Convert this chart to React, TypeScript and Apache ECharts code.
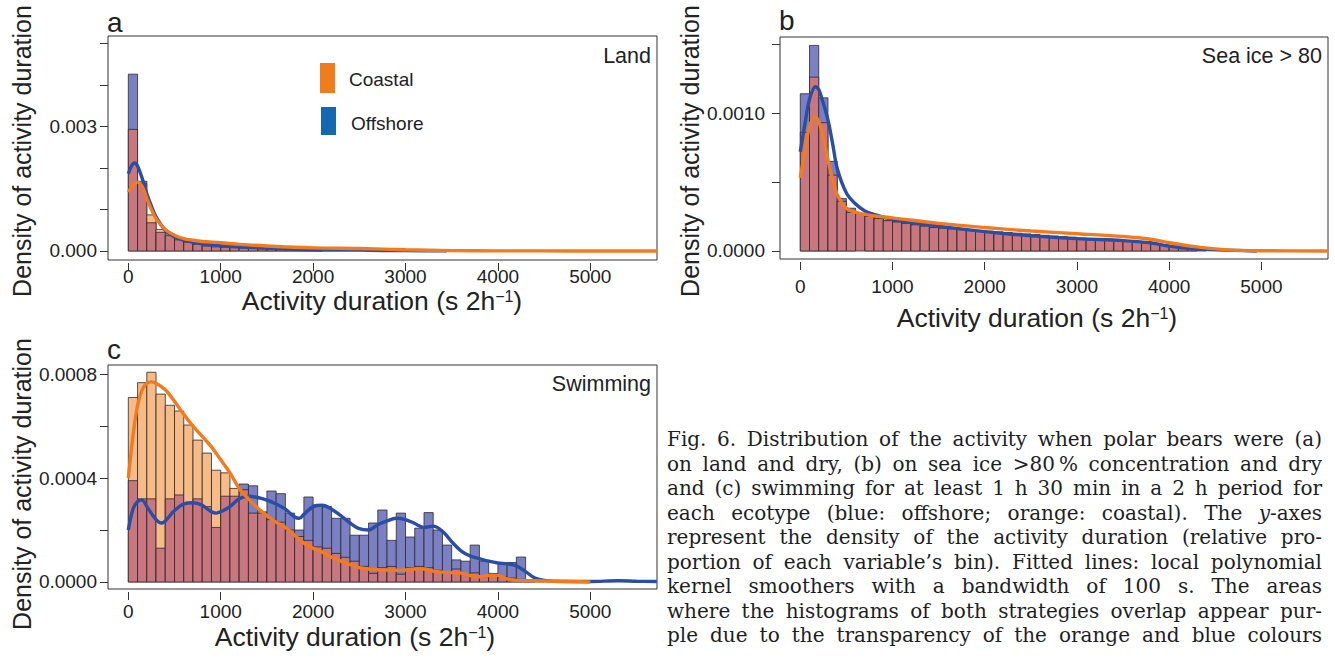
import React, { useEffect, useRef } from "react";
import * as echarts from "echarts";

// ---------------- data ----------------
const BIN_WIDTH = 100;

// Panel a: Land (density per bin, bins of 100 s starting at 0)
const landCoastal = [0.00293, 0.00162, 0.00087, 0.00052, 0.00041, 0.0003, 0.00023, 0.00018, 0.00014, 0.00012, 0.0001, 0.00009, 0.00008, 0.00007, 0.00006, 0.000055, 0.00005, 0.000045, 0.00004, 0.000035, 0.00003];
const landOffshore = [0.00426, 0.00168, 0.00068, 0.00045, 0.00037, 0.00027, 0.00021, 0.00016, 0.00012, 0.0001, 0.00009, 0.00008, 0.00007, 0.00006, 0.00005, 0.000045, 0.00004, 0.000035, 0.00003, 0.000025, 0.00002];
const landCoastalSmoothX = [0, 50, 100, 150, 200, 250, 300, 400, 500, 600, 700, 800, 1000, 1200, 1500, 2000, 2500, 3000, 3500, 4000, 4500, 5000, 5720];
const landCoastalSmoothY = [0.00142, 0.00158, 0.00166, 0.00155, 0.00127, 0.001, 0.00078, 0.00052, 0.00038, 0.0003, 0.00026, 0.00023, 0.0002, 0.00016, 0.00012, 0.000075, 0.00006, 0.00003, 0.00001, 0.000004, 0.000002, 0.000001, 0];
const landOffshoreSmoothX = [0, 35, 70, 100, 150, 200, 250, 300, 400, 500, 600, 700, 800, 1000, 1200, 1500, 2000, 2500, 3000, 3450];
const landOffshoreSmoothY = [0.00186, 0.00205, 0.00212, 0.00205, 0.00175, 0.00138, 0.00108, 0.00082, 0.0005, 0.00034, 0.00026, 0.00021, 0.00017, 0.00013, 0.0001, 0.00007, 0.00003, 0.00002, 0.000008, 0.000004];

// Panel b: Sea ice > 80
const iceCoastal = [0.00086, 0.00126, 0.00093, 0.00055, 0.00036, 0.00028, 0.00027, 0.000255, 0.00024, 0.000224, 0.000214, 0.000204, 0.000194, 0.000184, 0.000174, 0.000169, 0.000164, 0.000159, 0.000154, 0.000149, 0.000144, 0.000139, 0.000134, 0.000129, 0.000124, 0.000119, 0.000114, 0.000109, 0.000104, 0.000099, 0.000094, 0.000092, 0.000089, 0.000086, 0.000082, 0.000076, 0.00007, 0.000063, 0.000055, 0.000047, 0.000036, 0.000026, 0.000016, 0.000008];
const iceOffshore = [0.00114, 0.00149, 0.00111, 0.00065, 0.00038, 0.00031, 0.00027, 0.00025, 0.000235, 0.00022, 0.00021, 0.0002, 0.00019, 0.00018, 0.00017, 0.000165, 0.00016, 0.000155, 0.00015, 0.000145, 0.00014, 0.000135, 0.00013, 0.000125, 0.00012, 0.000115, 0.00011, 0.000105, 0.0001, 0.000095, 0.00009, 0.000088, 0.000085, 0.000082, 0.000078, 0.000072, 0.000066, 0.00006, 0.000052, 0.000045, 0.000035, 0.000025, 0.000015, 0.000008];
const iceCoastalSmoothX = [0, 50, 100, 160, 200, 250, 300, 350, 400, 500, 600, 700, 800, 1000, 1500, 2000, 2500, 3000, 3500, 3800, 4000, 4300, 4600, 5000, 5720];
const iceCoastalSmoothY = [0.00053, 0.00072, 0.0009, 0.00097, 0.00094, 0.00082, 0.00066, 0.00052, 0.00041, 0.00031, 0.00028, 0.000265, 0.000255, 0.00024, 0.0002, 0.00017, 0.000145, 0.000125, 0.000105, 0.000085, 0.00006, 0.00003, 0.00001, 0.000002, 0];
const iceOffshoreSmoothX = [0, 50, 100, 165, 200, 250, 300, 350, 400, 500, 600, 700, 800, 1000, 1500, 2000, 2500, 3000, 3500, 3800, 4000, 4200, 4500, 4950];
const iceOffshoreSmoothY = [0.00072, 0.00092, 0.0011, 0.00119, 0.00117, 0.00107, 0.00095, 0.00078, 0.0006, 0.00042, 0.00034, 0.00029, 0.000265, 0.00023, 0.00018, 0.00014, 0.00011, 0.00009, 0.000075, 0.00006, 0.000035, 0.00002, 0.000008, 0];

// Panel c: Swimming
const swimCoastal = [0.00071, 0.000767, 0.000807, 0.000723, 0.00068, 0.000658, 0.000604, 0.000546, 0.000496, 0.00043, 0.00042, 0.00036, 0.000355, 0.000265, 0.00027, 0.00024, 0.00023, 0.0002, 0.000175, 0.00016, 0.000135, 0.00013, 0.00011, 0.000095, 0.00008, 0.00006, 0.000033, 0.000055, 0.00006, 0.00003, 0.000055, 0.00006, 0.000055, 0.000045, 0.000035, 0.00005, 0.00003, 0.000035, 0.00002, 0.000025, 0.00002, 0.000015, 0.00001, 0.000005, 0.000003];
const swimOffshore = [0.00039, 0.00032, 0.00032, 0.00013, 0.00032, 0.000335, 0.000304, 0.00032, 0.00029, 0.00021, 0.00033, 0.00033, 0.000377, 0.00037, 0.000265, 0.00035, 0.00034, 0.000265, 0.0002, 0.000327, 0.000296, 0.00029, 0.000245, 0.000245, 0.00018, 0.00018, 0.000227, 0.000277, 0.00016, 0.000265, 0.000173, 0.000207, 0.000267, 0.0002, 0.000142, 0.000085, 0.00008, 0.000142, 0.00008, 0.000033, 0.000075, 0.000075, 0.000096, 0.000006, 0.000003];
const swimCoastalSmoothX = [0, 50, 100, 150, 200, 250, 300, 400, 500, 600, 700, 800, 900, 1000, 1100, 1200, 1300, 1400, 1500, 1600, 1700, 1800, 1900, 2000, 2100, 2200, 2300, 2400, 2500, 2600, 2700, 2800, 2900, 3000, 3100, 3200, 3300, 3400, 3500, 3600, 3700, 3800, 3900, 4000, 4100, 4200, 4400, 4600, 5000];
const swimCoastalSmoothY = [0.0004, 0.00056, 0.00068, 0.00074, 0.000765, 0.00077, 0.000765, 0.00074, 0.000695, 0.000645, 0.0006, 0.00056, 0.00052, 0.00047, 0.00042, 0.00036, 0.00032, 0.000285, 0.000255, 0.00023, 0.00021, 0.00018, 0.00015, 0.00013, 0.000115, 0.000095, 0.00008, 0.000068, 0.000055, 0.00005, 0.000047, 0.000046, 0.000045, 0.000046, 0.00005, 0.00005, 0.000042, 0.000038, 0.000036, 0.000034, 0.000025, 0.00002, 0.000025, 0.000025, 0.000012, 0.000006, 0.000005, 0.000003, 0];
const swimOffshoreSmoothX = [0, 50, 100, 150, 200, 300, 360, 400, 500, 600, 700, 800, 900, 950, 1000, 1100, 1200, 1300, 1400, 1500, 1600, 1700, 1800, 1850, 1900, 2000, 2100, 2200, 2300, 2400, 2500, 2600, 2700, 2800, 2900, 3000, 3100, 3200, 3300, 3400, 3500, 3600, 3700, 3800, 3900, 4000, 4100, 4200, 4300, 4400, 4500, 4600, 5000, 5300, 5500, 5720];
const swimOffshoreSmoothY = [0.0002, 0.00028, 0.00031, 0.000315, 0.00029, 0.00024, 0.000227, 0.000235, 0.000275, 0.0003, 0.000305, 0.000295, 0.00027, 0.000265, 0.00027, 0.00029, 0.00032, 0.00033, 0.000325, 0.000315, 0.0003, 0.00028, 0.00025, 0.000245, 0.00026, 0.00029, 0.000295, 0.00028, 0.000255, 0.000227, 0.000205, 0.0002, 0.00022, 0.000235, 0.000245, 0.00024, 0.000225, 0.00021, 0.000215, 0.000195, 0.000155, 0.00012, 0.0001, 0.00009, 0.00008, 0.000073, 0.00007, 0.000062, 0.00004, 0.000015, 0.000006, 0.000003, 0.000002, 0.000005, 0.000003, 0.000002];

const xTicks = [0, 1000, 2000, 3000, 4000, 5000];
const landYTicks = [0, 0.001, 0.002, 0.003, 0.004, 0.005];
const landYLabels = [0, 0.003];
const iceYTicks = [0, 0.0005, 0.001, 0.0015];
const iceYLabels = [0, 0.001];
const swimYTicks = [0, 0.0002, 0.0004, 0.0006, 0.0008];
const swimYLabels = [0, 0.0004, 0.0008];

const panelTitles = ["Land", "Sea ice > 80", "Swimming"];
const panelLetters = ["a", "b", "c"];
const legendNames = ["Coastal", "Offshore"];
const yTitle = "Density of activity duration";

const captionLines = [
  "Fig. 6. Distribution of the activity when polar bears were (a)",
  "on land and dry, (b) on sea ice >80\u2009% concentration and dry",
  "and (c) swimming for at least 1 h 30 min in a 2 h period for",
  "each ecotype (blue: offshore; orange: coastal). The *y*-axes",
  "represent the density of the activity duration (relative pro-",
  "portion of each variable\u2019s bin). Fitted lines: local polynomial",
  "kernel smoothers with a bandwidth of 100 s. The areas",
  "where the histograms of both strategies overlap appear pur-",
  "ple due to the transparency of the orange and blue colours",
];

// ---------------- style ----------------
const SANS = '"Liberation Sans", Arial, Helvetica, sans-serif';
const SERIF = '"DejaVu Serif", "Liberation Serif", serif';
const TEXT = "#222222";
const AXIS = "#333333";
const BLUE_BAR = "#7b7fc3";
const ORANGE_BAR = "#f6bb87";
const ROSE_BAR = "#c9767f";
const EDGE = "#2b2b2b";
const BLUE_LINE = "#2a4ea6";
const ORANGE_LINE = "#f27a1f";
const LEG_ORANGE = "#f07d1c";
const LEG_BLUE = "#1467b3";

const zip = (xs: number[], ys: number[]) => xs.map((x, i) => [x, ys[i]]);
const histData = (c: number[], o: number[]) => c.map((v, i) => [i * BIN_WIDTH, (i + 1) * BIN_WIDTH, v, o[i]]);

function histSeries(idx: number, c: number[], o: number[]) {
  return {
    type: "custom",
    xAxisIndex: idx,
    yAxisIndex: idx,
    data: histData(c, o),
    encode: { x: [0, 1], y: [2, 3] },
    clip: true,
    silent: true,
    z: 2,
    renderItem: (params: any, api: any) => {
      const x0 = api.value(0);
      const x1 = api.value(1);
      const cv = api.value(2);
      const ov = api.value(3);
      const base = api.coord([x0, 0]);
      const w = api.coord([x1, 0])[0] - base[0];
      const rect = (h: number, fill: string) => {
        const top = api.coord([x0, h])[1];
        return {
          type: "rect",
          shape: { x: base[0], y: top, width: w, height: base[1] - top },
          style: { fill, stroke: EDGE, lineWidth: 0.8 },
        };
      };
      const children: any[] = [];
      if (ov > cv) children.push(rect(ov, BLUE_BAR));
      else if (cv > ov) children.push(rect(cv, ORANGE_BAR));
      children.push(rect(Math.min(cv, ov), ROSE_BAR));
      return { type: "group", children };
    },
  };
}

function lineSeries(idx: number, xs: number[], ys: number[], color: string, z: number) {
  return {
    type: "line",
    xAxisIndex: idx,
    yAxisIndex: idx,
    data: zip(xs, ys),
    showSymbol: false,
    smooth: 0.35,
    silent: true,
    z,
    lineStyle: { color, width: 3.4 },
  };
}

function xAxisOf(idx: number, margin: number) {
  return {
    type: "value",
    gridIndex: idx,
    min: -220,
    max: 5722,
    offset: 3,
    axisLine: { show: false, onZero: false },
    splitLine: { show: false },
    axisTick: { show: true, length: 8, customValues: xTicks, lineStyle: { color: AXIS, width: 1 } },
    axisLabel: {
      customValues: xTicks,
      fontSize: 19,
      fontFamily: SANS,
      color: TEXT,
      margin,
      formatter: (v: number) => String(Math.round(v)),
    },
  };
}

function yAxisOf(idx: number, min: number, max: number, ticks: number[], labels: number[], digits: number, margin: number) {
  return {
    type: "value",
    gridIndex: idx,
    min,
    max,
    axisLine: { show: false, onZero: false },
    splitLine: { show: false },
    axisTick: { show: true, length: 8, customValues: ticks, lineStyle: { color: AXIS, width: 1 } },
    axisLabel: {
      customValues: labels,
      fontSize: 19,
      fontFamily: SANS,
      color: TEXT,
      margin,
      formatter: (v: number) => v.toFixed(digits),
    },
  };
}

function txt(x: number, y: number, text: string, size: number, align: string, extra: any = {}) {
  return {
    type: "text",
    x,
    y,
    silent: true,
    ...extra,
    style: {
      text,
      fontSize: size,
      fontFamily: SANS,
      fill: TEXT,
      align,
      verticalAlign: "middle",
      textAlign: align,
      textVerticalAlign: "middle",
    },
  };
}

function xTitle(cx: number, cy: number) {
  return {
    type: "text",
    x: cx,
    y: cy,
    silent: true,
    style: {
      text: "{t|Activity duration (s 2h}{s|\u22121}{t|)}",
      align: "center",
      verticalAlign: "middle",
      textAlign: "center",
      textVerticalAlign: "middle",
      fill: TEXT,
      rich: {
        t: { fontSize: 26.5, fontFamily: SANS, fill: TEXT, color: TEXT, verticalAlign: "bottom", lineHeight: 26 },
        s: { fontSize: 16, fontFamily: SANS, fill: TEXT, color: TEXT, verticalAlign: "top", lineHeight: 26 },
      },
    },
  };
}

function buildCaption(): any[] {
  const left = 667;
  const right = 1322;
  const width = right - left;
  const canvas = document.createElement("canvas");
  const ctx = canvas.getContext("2d") as CanvasRenderingContext2D;
  const parsed = captionLines.map((line) =>
    line.split(" ").map((word) => {
      const segs: { t: string; it: boolean }[] = [];
      word.split("*").forEach((p, k) => {
        if (p) segs.push({ t: p, it: k % 2 === 1 });
      });
      return segs;
    })
  );
  const measure = (size: number, s: { t: string; it: boolean }) => {
    ctx.font = `${s.it ? "italic " : ""}${size}px ${SERIF}`;
    return ctx.measureText(s.t).width;
  };
  let size = 20;
  const lineNatural = (sz: number, words: any[]) =>
    words.reduce((acc: number, w: any) => acc + w.reduce((a: number, s: any) => a + measure(sz, s), 0), 0) +
    (words.length - 1) * measure(sz, { t: " ", it: false }) * 0.8;
  while (size > 14 && Math.max(...parsed.map((w) => lineNatural(size, w))) > width) size -= 0.25;
  const out: any[] = [];
  parsed.forEach((words, li) => {
    const ww = words.map((w) => w.reduce((a, s) => a + measure(size, s), 0));
    const total = ww.reduce((a, b) => a + b, 0);
    const gap = words.length > 1 ? (width - total) / (words.length - 1) : 0;
    let x = left;
    const y = 439 + li * 24.5;
    words.forEach((w, wi) => {
      let sx = x;
      w.forEach((s) => {
        out.push({
          type: "text",
          x: sx,
          y,
          silent: true,
          style: {
            text: s.t,
            fontSize: size,
            fontFamily: SERIF,
            fontStyle: s.it ? "italic" : "normal",
            fill: "#1e1e1e",
            align: "left",
            verticalAlign: "middle",
            textAlign: "left",
            textVerticalAlign: "middle",
          },
        });
        sx += measure(size, s);
      });
      x += ww[wi] + gap;
    });
  });
  return out;
}

export default function App() {
  const ref = useRef<HTMLDivElement>(null);
  useEffect(() => {
    if (!ref.current) return;
    const chart = echarts.init(ref.current, undefined, { renderer: "svg" });
    const gridStyle = { show: true, borderColor: AXIS, borderWidth: 1, backgroundColor: "transparent", containLabel: false };
    const option: any = {
      animation: false,
      backgroundColor: "#ffffff",
      grid: [
        { ...gridStyle, left: 108, top: 36, width: 549, height: 224 },
        { ...gridStyle, left: 780, top: 37, width: 548, height: 222 },
        { ...gridStyle, left: 108, top: 365, width: 549, height: 224 },
      ],
      xAxis: [xAxisOf(0, 4), xAxisOf(1, 15), xAxisOf(2, 10)],
      yAxis: [
        yAxisOf(0, -0.000217, 0.00518, landYTicks, landYLabels, 3, 11),
        yAxisOf(1, -0.000058, 0.001551, iceYTicks, iceYLabels, 4, 15),
        yAxisOf(2, -0.000027, 0.000835, swimYTicks, swimYLabels, 4, 11),
      ],
      series: [
        histSeries(0, landCoastal, landOffshore),
        lineSeries(0, landOffshoreSmoothX, landOffshoreSmoothY, BLUE_LINE, 3),
        lineSeries(0, landCoastalSmoothX, landCoastalSmoothY, ORANGE_LINE, 4),
        histSeries(1, iceCoastal, iceOffshore),
        lineSeries(1, iceOffshoreSmoothX, iceOffshoreSmoothY, BLUE_LINE, 3),
        lineSeries(1, iceCoastalSmoothX, iceCoastalSmoothY, ORANGE_LINE, 4),
        histSeries(2, swimCoastal, swimOffshore),
        lineSeries(2, swimOffshoreSmoothX, swimOffshoreSmoothY, BLUE_LINE, 3),
        lineSeries(2, swimCoastalSmoothX, swimCoastalSmoothY, ORANGE_LINE, 4),
      ],
      graphic: [
        // panel letters
        txt(107, 22, panelLetters[0], 28, "left"),
        txt(779, 20, panelLetters[1], 28, "left"),
        txt(107, 349, panelLetters[2], 28, "left"),
        // panel titles
        txt(651, 56, panelTitles[0], 21.5, "right"),
        txt(1322, 56, panelTitles[1], 21.5, "right"),
        txt(651, 384, panelTitles[2], 21.5, "right"),
        // y titles
        txt(22, 151, yTitle, 25, "center", { rotation: Math.PI / 2 }),
        txt(690, 151, yTitle, 25, "center", { rotation: Math.PI / 2 }),
        txt(22, 484, yTitle, 25, "center", { rotation: Math.PI / 2 }),
        // x titles
        xTitle(382, 301),
        xTitle(1037, 318),
        xTitle(355, 637),
        // legend
        { type: "rect", silent: true, shape: { x: 320, y: 63, width: 15, height: 30 }, style: { fill: LEG_ORANGE } },
        { type: "rect", silent: true, shape: { x: 321, y: 107, width: 15, height: 28 }, style: { fill: LEG_BLUE } },
        txt(349, 79, legendNames[0], 19, "left"),
        txt(351, 123, legendNames[1], 19, "left"),
        ...buildCaption(),
      ],
    };
    chart.setOption(option);
    return () => chart.dispose();
  }, []);
  return (
    <div
      ref={ref}
      style={{ position: "fixed", left: 0, top: 0, width: 1335, height: 662, background: "#ffffff" }}
    />
  );
}
